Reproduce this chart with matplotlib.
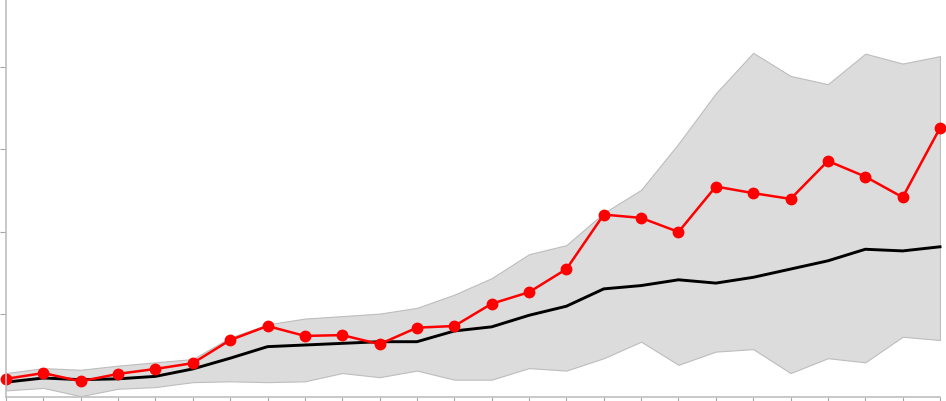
import matplotlib
matplotlib.use("Agg")
import matplotlib.pyplot as plt
import numpy as np

# values (y ticks at 1, 2, 3, 4)
red = [0.22, 0.29, 0.19, 0.28, 0.34, 0.41, 0.69, 0.86, 0.74, 0.75, 0.64, 0.84, 0.86,
       1.13, 1.27, 1.55, 2.21, 2.17, 2.00, 2.55, 2.47, 2.40, 2.86, 2.67, 2.42, 3.26]
mean = [0.18, 0.23, 0.21, 0.22, 0.25, 0.34, 0.47, 0.61, 0.63, 0.65, 0.67, 0.67, 0.80,
        0.85, 0.99, 1.10, 1.31, 1.35, 1.42, 1.38, 1.45, 1.55, 1.65, 1.79, 1.77, 1.82]
upper = [0.29, 0.35, 0.33, 0.38, 0.42, 0.46, 0.72, 0.88, 0.95, 0.98, 1.01, 1.08, 1.24,
         1.44, 1.73, 1.84, 2.23, 2.51, 3.07, 3.68, 4.17, 3.89, 3.79, 4.16, 4.04, 4.13]
lower = [0.08, 0.11, 0.01, 0.10, 0.12, 0.18, 0.19, 0.18, 0.19, 0.29, 0.24, 0.32, 0.21,
         0.21, 0.35, 0.32, 0.47, 0.67, 0.39, 0.55, 0.58, 0.29, 0.47, 0.42, 0.73, 0.69]
yticks = [1, 2, 3, 4]

x = np.arange(len(red))

fig = plt.figure(figsize=(9.46, 4.01), dpi=100)
ax = fig.add_axes([6 / 946, 4 / 401, 934 / 946, 397 / 401])

ax.fill_between(x, lower, upper, facecolor='#dcdcdc', edgecolor='#bdbdbd', linewidth=0.8)
ax.plot(x, mean, color='black', linewidth=2.1, clip_on=False)
ax.plot(x, red, 'o-', color='red', linewidth=1.8, markersize=7.5, clip_on=False)

ax.set_xlim(0, len(red) - 1)
ax.set_ylim(0, 4.81)
ax.set_xticks(x)
ax.set_yticks(yticks)
ax.set_xticklabels([])
ax.set_yticklabels([])
ax.tick_params(direction='out', length=4, width=0.8, color='#a6a6a6')

ax.spines[['right', 'top']].set_visible(False)
ax.spines[['left', 'bottom']].set_color('#bfbfbf')
ax.spines[['left', 'bottom']].set_linewidth(1.2)

fig.savefig('out.png', dpi=100)
